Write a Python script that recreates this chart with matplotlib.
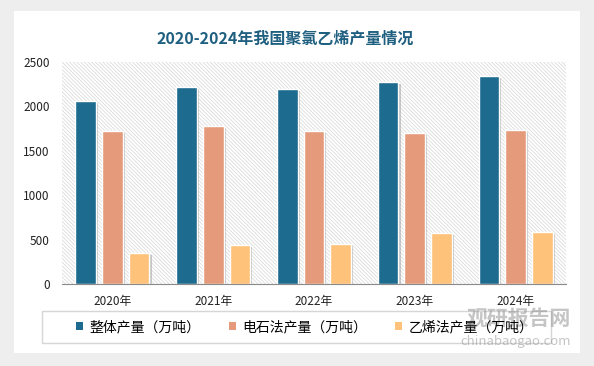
import matplotlib.pyplot as plt
import matplotlib.patheffects as pe
from matplotlib.patches import Rectangle
import numpy as np

plt.rcParams['font.family'] = ['Noto Sans CJK SC', 'DejaVu Sans']
plt.rcParams['hatch.color'] = '#dcdcdc'
plt.rcParams['hatch.linewidth'] = 0.6

years = ['2020年', '2021年', '2022年', '2023年', '2024年']
total = [2064, 2215, 2199, 2278, 2346]
calcium = [1720, 1783, 1727, 1704, 1738]
ethylene = [345, 436, 454, 571, 589]
names = ['整体产量（万吨）', '电石法产量（万吨）', '乙烯法产量（万吨）']
colors = ['#1d6b8e', '#e59b7b', '#fec27a']

W, H = 594, 366
fig = plt.figure(figsize=(W / 100, H / 100), dpi=100)
fig.patch.set_facecolor('#eeeeee')

# white card
card = Rectangle((14 / W, 1 - 353 / H), 566 / W, 342 / H, transform=fig.transFigure,
                 facecolor='white', edgecolor='none', zorder=-5)
fig.patches.append(card)

fig.text(0.48, 1 - 39 / H, '2020-2024年我国聚氯乙烯产量情况', ha='center', va='center',
         fontsize=11.5, fontweight='bold', color='#1f5f80')

ax = fig.add_axes([62 / W, 1 - 284 / H, 504 / W, 222 / H])
ax.set_facecolor('white')
bg = Rectangle((0, 0), 1, 1, transform=ax.transAxes, facecolor='white',
               edgecolor='#dcdcdc', hatch='\\' * 9, linewidth=0, zorder=0)
ax.add_patch(bg)

x = np.arange(len(years))
shadow = [pe.SimplePatchShadow(offset=(1.5, -1.5), shadow_rgbFace='#999999', alpha=0.5), pe.Normal()]
for i, vals in enumerate([total, calcium, ethylene]):
    bars = ax.bar(x + (i - 1) * 0.265, vals, width=0.205, color=colors[i],
                  edgecolor='white', linewidth=1.0, label=names[i], zorder=3)
    for b in bars:
        b.set_path_effects(shadow)

ax.set_xlim(-0.5, 4.5)
ax.set_ylim(0, 2500)
ax.set_yticks(range(0, 2501, 500))
ax.set_xticks(x)
ax.set_xticklabels(years)
ax.tick_params(axis='both', length=0, labelsize=8.5, colors='#222222')
ax.tick_params(axis='x', pad=8)
ax.tick_params(axis='y', pad=9)
for s in ['top', 'right', 'left']:
    ax.spines[s].set_visible(False)
ax.spines['bottom'].set_color('#8a8a8a')
ax.spines['bottom'].set_zorder(5)

# legend frame
frame = Rectangle((42 / W, 1 - 343 / H), 509 / W, 32 / H, transform=fig.transFigure,
                  facecolor='none', edgecolor='#d6d6d6', linewidth=1.0, zorder=1)
fig.patches.append(frame)
leg = fig.legend(loc='center left', bbox_to_anchor=(76 / W, 1 - 327 / H), ncol=3,
                 frameon=False, fontsize=10, handlelength=0.5, handleheight=0.5,
                 handletextpad=0.45, borderaxespad=0, borderpad=0, columnspacing=2.05)
for h in leg.legend_handles:
    h.set_path_effects([])
    h.set_edgecolor('none')

# watermark
fig.text(519 / W, 1 - 318 / H, '观研报告网', ha='center', va='center', fontsize=15,
         fontweight='bold', color='#8c8c8c', alpha=0.5)
fig.text(516 / W, 1 - 342 / H, 'chinabaogao.com', ha='center', va='center', fontsize=9.5,
         color='#8c8c8c', alpha=0.5)

plt.savefig('out.png', dpi=100, facecolor=fig.get_facecolor())
